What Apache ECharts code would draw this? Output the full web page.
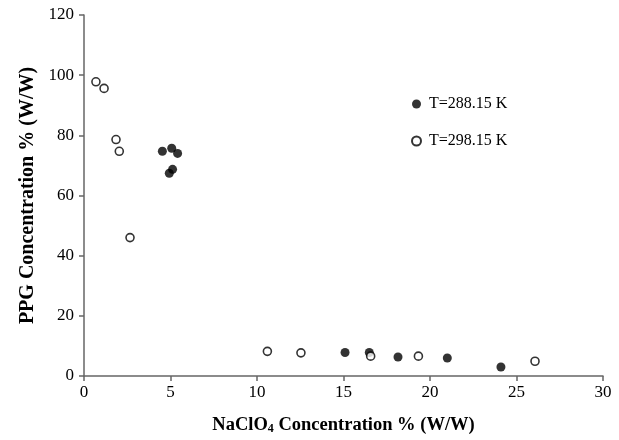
<!DOCTYPE html>
<html><head><meta charset="utf-8">
<script src="https://cdn.jsdelivr.net/npm/echarts@6/dist/echarts.min.js"></script>
<style>html,body{margin:0;padding:0;background:#fff}#c{width:619px;height:440px}</style>
</head><body><div id="c"></div>
<script>
var seriesNames = ['T=288.15 K', 'T=298.15 K'];
var filledX = [4.53, 5.07, 5.41, 4.93, 5.12, 15.09, 16.49, 18.15, 21.0, 24.1];
var filledY = [74.7, 75.7, 74.0, 67.4, 68.7, 7.8, 7.8, 6.3, 6.0, 3.0];
var openX = [0.69, 1.16, 1.85, 2.04, 2.66, 10.6, 12.54, 16.57, 19.33, 26.07];
var openY = [97.8, 95.6, 78.6, 74.7, 46.0, 8.2, 7.7, 6.6, 6.6, 4.9];
var xTicks = [0, 5, 10, 15, 20, 25, 30];
var yTicks = [0, 20, 40, 60, 80, 100, 120];

function pairs(xs, ys){ return xs.map(function(x,i){ return [x, ys[i]]; }); }
var serif = '"Liberation Serif", "Times New Roman", serif';
var chart = echarts.init(document.getElementById('c'), null, {renderer:'canvas'});
chart.setOption({
  animation: false,
  backgroundColor: '#fff',
  grid: {left: 84, right: 16, top: 15, bottom: 64},
  legend: {
    orient: 'vertical', left: 406, top: 91, itemGap: 21,
    itemWidth: 9, itemHeight: 9,
    textStyle: {fontFamily: serif, fontSize: 16, color: '#000', padding: [0,0,0,3]},
    data: seriesNames
  },
  xAxis: {
    type: 'value', min: xTicks[0], max: xTicks[xTicks.length-1], interval: 5,
    splitLine: {show: false},
    axisLine: {lineStyle: {color: '#666', width: 1.5}},
    axisTick: {show: true, length: 5, lineStyle: {color: '#666', width: 1.5}},
    axisLabel: {fontFamily: serif, fontSize: 17, color: '#000', margin: 8},
    name: '{a|NaClO}{s|4}{a| Concentration % (W/W)}',
    nameLocation: 'middle', nameGap: 39,
    nameTextStyle: {
      rich: {
        a: {fontFamily: serif, fontSize: 18.5, fontWeight: 'bold', color: '#000'},
        s: {fontFamily: serif, fontSize: 12, fontWeight: 'bold', color: '#000', verticalAlign: 'bottom', padding: [8,0,0,0]}
      }
    }
  },
  yAxis: {
    type: 'value', min: yTicks[0], max: yTicks[yTicks.length-1], interval: 20,
    splitLine: {show: false},
    axisLine: {show: true, lineStyle: {color: '#666', width: 1.5}},
    axisTick: {show: true, length: 5, lineStyle: {color: '#666', width: 1.5}},
    axisLabel: {fontFamily: serif, fontSize: 17, color: '#000', margin: 10},
    name: 'PPG Concentration % (W/W)',
    nameLocation: 'middle', nameGap: 46,
    nameTextStyle: {fontFamily: serif, fontSize: 20, fontWeight: 'bold', color: '#000'}
  },
  series: [
    {
      name: seriesNames[0], type: 'scatter', symbol: 'circle', symbolSize: 9,
      itemStyle: {color: '#000'},
      data: pairs(filledX, filledY)
    },
    {
      name: seriesNames[1], type: 'scatter', symbol: 'circle', symbolSize: 8,
      itemStyle: {color: '#fff', borderColor: '#000', borderWidth: 1.6},
      data: pairs(openX, openY)
    }
  ]
});
</script></body></html>
